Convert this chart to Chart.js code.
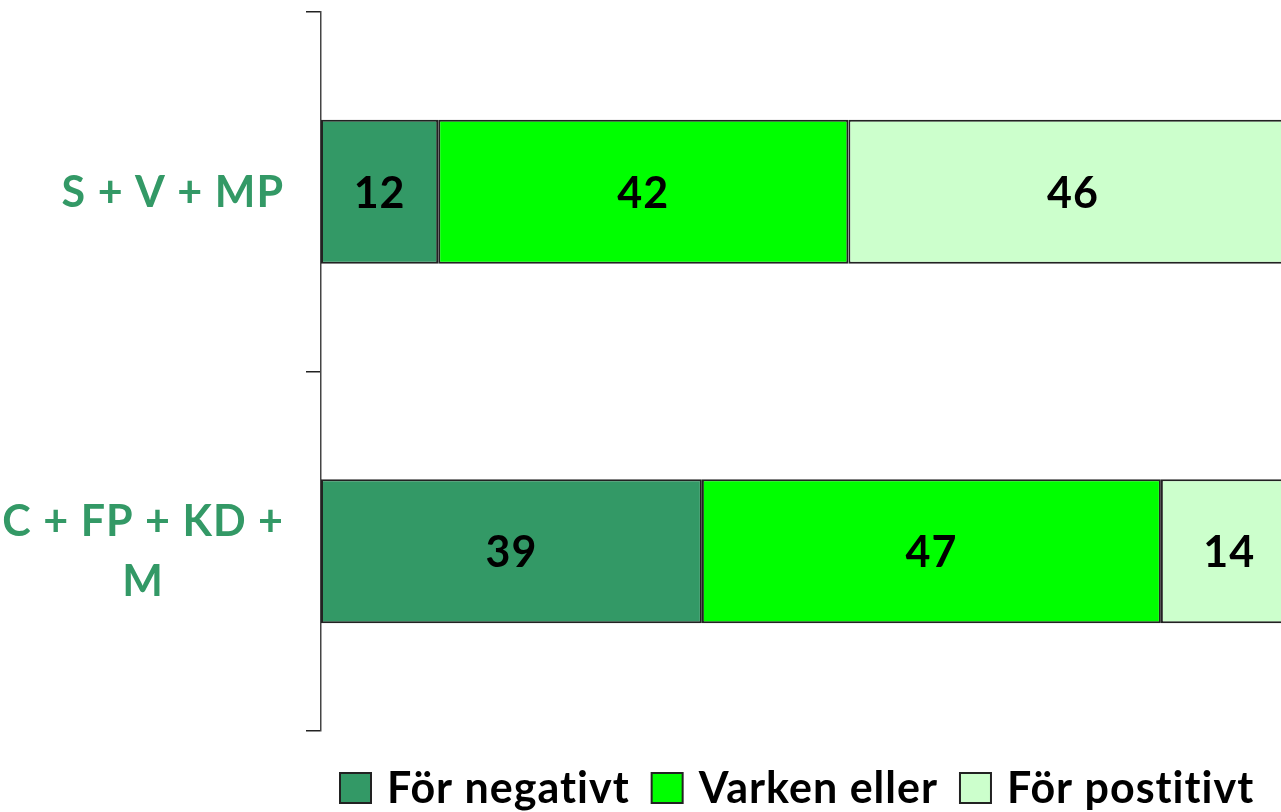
<!DOCTYPE html>
<html>
<head>
<meta charset="utf-8">
<script src="https://cdn.jsdelivr.net/npm/chart.js@4/dist/chart.umd.min.js"></script>
<style>
  html, body { margin: 0; padding: 0; background: #fff; }
  #wrap { width: 1281px; height: 812px; }
</style>
</head>
<body>
<div id="wrap"><canvas id="chart" width="1281" height="812"></canvas></div>
<script>
// categories (multi-line labels as arrays)
const groups = [['S + V + MP'], ['C + FP + KD +', 'M']];
const seriesNames = ['För negativt', 'Varken eller', 'För postitivt'];
const negativ = [12, 39];
const varken = [42, 47];
const positiv = [46, 14];
const colors = ['#339966', '#00ff00', '#ccffcc'];

const FONT = 'bold 43px Lato';

function setFont(ctx) {
    ctx.font = FONT;
    ctx.letterSpacing = '1px'; // also stops the "ti" ligature
}

// labels inside each bar segment
const barLabels = {
    id: 'barLabels',
    afterDatasetsDraw(c) {
        const ctx = c.ctx;
        ctx.save();
        setFont(ctx);
        ctx.fillStyle = '#000';
        ctx.textAlign = 'center';
        ctx.textBaseline = 'alphabetic';
        c.data.datasets.forEach((ds, i) => {
            c.getDatasetMeta(i).data.forEach((bar, j) => {
                const p = bar.getCenterPoint();
                ctx.fillText(ds.data[j], p.x, p.y + 16);
            });
        });
        ctx.restore();
    }
};

// category names: block right-aligned to the axis, lines centered inside
const groupLabels = {
    id: 'groupLabels',
    afterDraw(c) {
        const ctx = c.ctx;
        const y = c.scales.y;
        ctx.save();
        setFont(ctx);
        ctx.fillStyle = '#339966';
        ctx.textAlign = 'center';
        groups.forEach((lines, i) => {
            const w = Math.max(...lines.map(l => ctx.measureText(l).width));
            const cx = 284 - w / 2;
            const cy = y.getPixelForValue(i);
            const lh = 60;
            lines.forEach((l, k) => {
                const ly = cy + (k - (lines.length - 1) / 2) * lh;
                ctx.fillText(l, cx, ly + 15);
            });
        });
        ctx.restore();
    }
};

// legend along the bottom, runs off the right edge like the original
const bottomLegend = {
    id: 'bottomLegend',
    afterDraw(c) {
        const ctx = c.ctx;
        ctx.save();
        setFont(ctx);
        let x = 340;
        c.data.datasets.forEach(ds => {
            ctx.fillStyle = ds.backgroundColor;
            ctx.fillRect(x, 773, 31, 30);
            ctx.strokeStyle = '#222';
            ctx.lineWidth = 2;
            ctx.strokeRect(x, 773, 31, 30);
            ctx.fillStyle = '#000';
            ctx.textAlign = 'left';
            ctx.fillText(ds.label, x + 47, 803);
            x += 47 + ctx.measureText(ds.label).width + 22;
        });
        ctx.restore();
    }
};

new Chart(document.querySelector('#chart').getContext('2d'), {
    type: 'bar',
    data: {
        labels: groups.map(g => g.join(' ')),
        datasets: [
            { label: seriesNames[0], data: negativ, backgroundColor: colors[0] },
            { label: seriesNames[1], data: varken, backgroundColor: colors[1] },
            { label: seriesNames[2], data: positiv, backgroundColor: colors[2] }
        ].map(d => Object.assign(d, {
            borderColor: '#222',
            borderWidth: 2,
            borderSkipped: false,
            categoryPercentage: 1,
            barPercentage: 0.4
        }))
    },
    options: {
        indexAxis: 'y',
        responsive: false,
        animation: false,
        layout: { padding: { left: 306, top: 12, right: 0, bottom: 81 } },
        scales: {
            x: { stacked: true, display: false, min: 0, max: 98.3 },
            y: {
                stacked: true,
                position: 'left',
                ticks: { display: false },
                grid: { offset: true, drawOnChartArea: false, tickLength: 15, color: '#222', lineWidth: 1.5 },
                border: { display: true, color: '#444', width: 1.5 }
            }
        },
        plugins: {
            legend: { display: false },
            tooltip: { enabled: false }
        }
    },
    plugins: [barLabels, groupLabels, bottomLegend]
});
</script>
</body>
</html>
